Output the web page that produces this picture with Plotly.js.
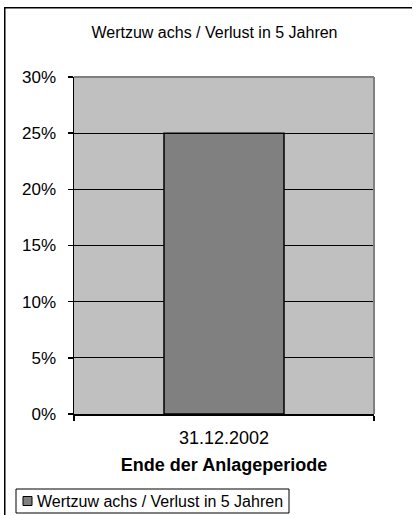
<!DOCTYPE html>
<html>
<head>
<meta charset="utf-8">
<script src="https://cdn.plot.ly/plotly-3.0.1.min.js"></script>
<style>
html,body{margin:0;padding:0;background:#fff;overflow:hidden;}
#chart{width:417px;height:515px;}
</style>
</head>
<body>
<div id="chart"></div>
<script>
const categories = ["31.12.2002"];
const seriesName = "Wertzuw achs / Verlust in 5 Jahren";
const values = [0.25];
const chartTitle = "Wertzuw achs / Verlust in 5 Jahren";
const xTitle = "Ende der Anlageperiode";

const FONT = "Liberation Sans, Arial, sans-serif";
const W = 417, H = 515;
const M = {l: 74, r: 43, t: 77, b: 101};
const PW = W - M.l - M.r, PH = H - M.t - M.b;
const px = v => (v - M.l) / PW;          // pixel x -> paper
const py = v => (H - M.b - v) / PH;      // pixel y -> paper

const trace = {
  type: "bar",
  x: categories,
  y: values,
  name: seriesName,
  marker: {color: "#808080", line: {color: "#000", width: 1.5}},
  showlegend: false,
  hoverinfo: "none"
};

const layout = {
  width: W, height: H,
  margin: M,
  paper_bgcolor: "#fff",
  plot_bgcolor: "#c0c0c0",
  font: {family: FONT, color: "#000"},
  bargap: 0.6,
  showlegend: false,
  title: {text: chartTitle, font: {size: 16, family: FONT, color: "#000"},
          x: 214.5 / W, xanchor: "center", y: 1 - 32/H, yanchor: "middle"},
  xaxis: {
    type: "category",
    showline: true, linecolor: "#000", linewidth: 1.5,
    ticks: "outside", tickson: "boundaries", ticklen: 5, tickcolor: "#000", tickwidth: 1.5,
    ticklabelstandoff: 7,
    tickfont: {size: 18, family: FONT, color: "#000"},
    showgrid: false, zeroline: false,
    title: {text: xTitle, font: {size: 18, family: FONT, color: "#000", weight: "bold"}, standoff: 11}
  },
  yaxis: {
    range: [0, 0.3], dtick: 0.05, tick0: 0, tickformat: ".0%",
    showline: true, linecolor: "#000", linewidth: 1.5,
    ticks: "outside", ticklen: 5, tickcolor: "#000", tickwidth: 1.5,
    ticklabelstandoff: 8,
    tickfont: {size: 17, family: FONT, color: "#000"},
    showgrid: true, gridcolor: "#000", gridwidth: 1,
    zeroline: false, fixedrange: true
  },
  shapes: [
    // outer chart frame: top and left edges (right/bottom are cropped in the original)
    {type: "line", xref: "paper", yref: "paper", x0: px(4), x1: px(412), y0: py(7.75), y1: py(7.75), line: {color: "#000", width: 1.5}, layer: "above"},
    {type: "line", xref: "paper", yref: "paper", x0: px(4.75), x1: px(4.75), y0: py(7), y1: py(515), line: {color: "#000", width: 1.5}, layer: "above"},
    // plot-area border (top/right, grey)
    {type: "line", xref: "paper", yref: "paper", x0: 0, x1: 1, y0: 1, y1: 1, line: {color: "#808080", width: 2}, layer: "above"},
    {type: "line", xref: "paper", yref: "paper", x0: 1, x1: 1, y0: 0, y1: 1, line: {color: "#808080", width: 2}, layer: "above"},
    // legend box and symbol
    {type: "rect", xref: "paper", yref: "paper", x0: px(16), x1: px(289), y0: py(513), y1: py(489),
     line: {color: "#000", width: 1}, fillcolor: "#fff", layer: "above"},
    {type: "rect", xref: "paper", yref: "paper", x0: px(23), x1: px(32), y0: py(505.5), y1: py(496.5),
     line: {color: "#000", width: 1}, fillcolor: "#808080", layer: "above"}
  ],
  annotations: [
    {text: seriesName, xref: "paper", yref: "paper", x: px(35), y: py(501), xanchor: "left", yanchor: "middle",
     showarrow: false, font: {size: 16, family: FONT, color: "#000"}}
  ]
};

Plotly.newPlot("chart", [trace], layout, {staticPlot: true, displayModeBar: false});
</script>
</body>
</html>
